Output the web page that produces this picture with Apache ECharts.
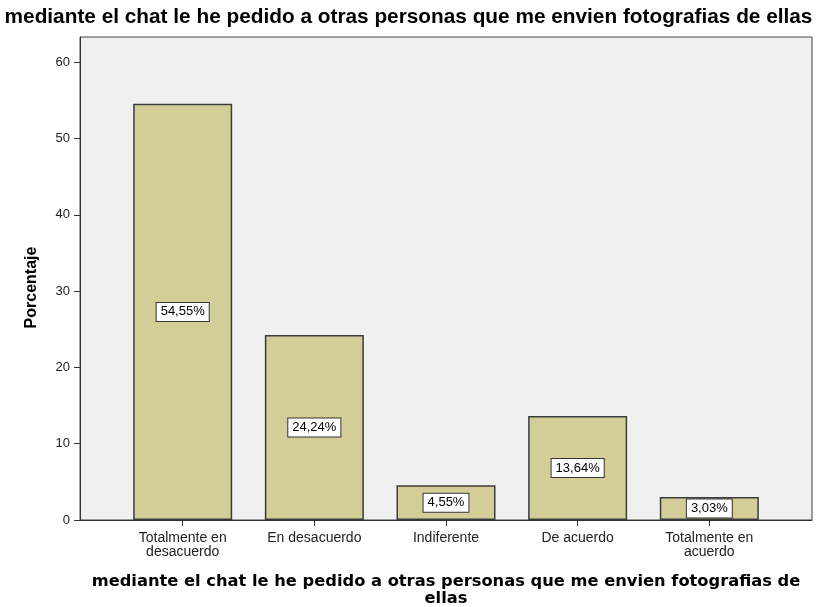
<!DOCTYPE html>
<html>
<head>
<meta charset="utf-8">
<script src="https://cdn.jsdelivr.net/npm/echarts@6/dist/echarts.min.js"></script>
<style>
  html, body { margin: 0; padding: 0; background: #fff; overflow: hidden; }
  #main { width: 817px; height: 607px; }
</style>
</head>
<body>
<div id="main"></div>
<script>
// categorias y porcentajes
var categories = ['Totalmente en\ndesacuerdo', 'En desacuerdo', 'Indiferente', 'De acuerdo', 'Totalmente en\nacuerdo'];
var values = [54.55, 24.24, 4.55, 13.64, 3.03];
var labels = ['54,55%', '24,24%', '4,55%', '13,64%', '3,03%'];
var yTicks = [0, 10, 20, 30, 40, 50, 60];

var chart = echarts.init(document.getElementById('main'));

var seriesData = values.map(function (v, i) {
  return { value: [i, v], label: { formatter: labels[i] } };
});

var option = {
  animation: false,
  textStyle: { fontFamily: 'Liberation Sans, Arial, sans-serif' },
  title: {
    text: 'mediante el chat le he pedido a otras personas que me envien fotografias de ellas',
    left: 'center',
    top: 2,
    textStyle: { fontSize: 20.8, fontWeight: 'bold', color: '#000' }
  },
  grid: {
    left: 80,
    right: 5,
    top: 37,
    bottom: 87,
    outerBoundsMode: 'none',
    containLabel: false,
    show: true,
    backgroundColor: '#f0f0f0',
    borderColor: '#444',
    borderWidth: 1
  },
  xAxis: {
    type: 'value',
    min: -0.78,
    max: 4.78,
    splitLine: { show: false },
    axisLine: { show: true, onZero: false, lineStyle: { color: '#333', width: 1 } },
    axisTick: { show: true, customValues: [0, 1, 2, 3, 4], length: 6, lineStyle: { color: '#333' } },
    axisLabel: {
      customValues: [0, 1, 2, 3, 4],
      formatter: function (v) { return categories[Math.round(v)]; },
      color: '#222',
      fontSize: 14,
      lineHeight: 14,
      margin: 11
    },
    name: 'mediante el chat le he pedido a otras personas que me envien fotografias de\nellas',
    nameLocation: 'middle',
    nameGap: 53,
    nameTextStyle: {
      fontFamily: 'DejaVu Sans, sans-serif',
      fontSize: 16.3,
      fontWeight: 'bold',
      color: '#000',
      lineHeight: 17
    }
  },
  yAxis: {
    type: 'value',
    min: 0,
    max: 63.3,
    splitLine: { show: false },
    axisLine: { show: true, onZero: false, lineStyle: { color: '#333', width: 1 } },
    axisTick: { show: true, customValues: yTicks, length: 6, lineStyle: { color: '#333' } },
    axisLabel: {
      customValues: yTicks,
      color: '#222',
      fontSize: 13,
      margin: 10
    },
    name: 'Porcentaje',
    nameLocation: 'middle',
    nameGap: 40,
    nameTextStyle: { fontSize: 16, fontWeight: 'bold', color: '#000', padding: [0, 18, 0, 0] }
  },
  series: [{
    type: 'bar',
    data: seriesData,
    barWidth: 99,
    itemStyle: { color: '#d3ce97', borderColor: '#3c3c3c', borderWidth: 1.5 },
    label: {
      show: true,
      position: 'inside',
      color: '#000',
      fontSize: 13,
      backgroundColor: '#fff',
      borderColor: '#333',
      borderWidth: 1,
      padding: [3, 4, 2, 4]
    }
  }]
};

chart.setOption(option);
</script>
</body>
</html>
